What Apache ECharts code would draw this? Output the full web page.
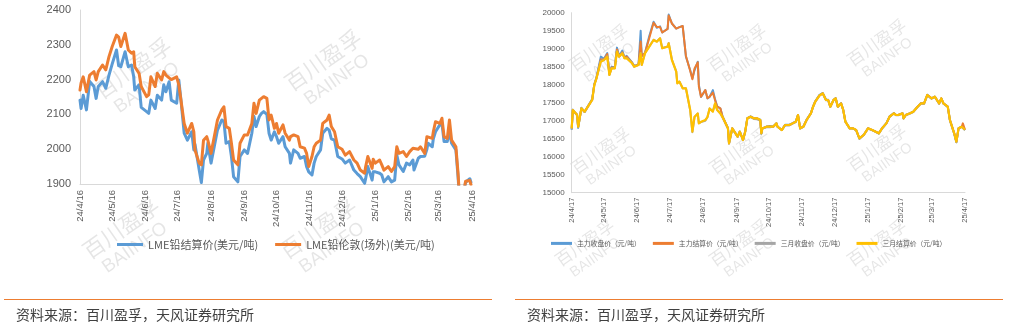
<!DOCTYPE html>
<html><head><meta charset="utf-8">
<script src="https://cdn.jsdelivr.net/npm/echarts@6/dist/echarts.min.js"></script>
<style>html,body{margin:0;padding:0;background:#fff}#c{width:1018px;height:325px}</style>
</head><body><div id="c"></div>
<script>
// ---------- Left chart data ----------
const leftTickLabels = ['24/4/16','24/5/16','24/6/16','24/7/16','24/8/16','24/9/16','24/10/16','24/11/16','24/12/16','25/1/16','25/2/16','25/3/16','25/4/16'];
const leftSeriesNames = ['LME铅结算价(美元/吨)','LME铅伦敦(场外)(美元/吨)'];
const leftDates = ['2024-04-16','2024-04-17','2024-04-19','2024-04-22','2024-04-25','2024-04-29','2024-05-01','2024-05-03','2024-05-07','2024-05-10',
'2024-05-13','2024-05-16','2024-05-20','2024-05-22','2024-05-24','2024-05-28','2024-05-31','2024-06-03','2024-06-05','2024-06-06',
'2024-06-10','2024-06-12','2024-06-17','2024-06-19','2024-06-21','2024-06-25','2024-06-27','2024-07-01','2024-07-03','2024-07-05',
'2024-07-08','2024-07-10','2024-07-15','2024-07-17','2024-07-19','2024-07-22','2024-07-25','2024-07-29','2024-07-31','2024-08-01',
'2024-08-05','2024-08-07','2024-08-09','2024-08-12','2024-08-13','2024-08-16','2024-08-19','2024-08-22','2024-08-26','2024-08-28',
'2024-08-30','2024-09-02','2024-09-04','2024-09-06','2024-09-10','2024-09-12','2024-09-16','2024-09-19','2024-09-23','2024-09-25',
'2024-09-27','2024-09-30','2024-10-02','2024-10-04','2024-10-07','2024-10-09','2024-10-11','2024-10-14','2024-10-16','2024-10-18',
'2024-10-22','2024-10-24','2024-10-28','2024-10-29','2024-11-01','2024-11-05','2024-11-07','2024-11-11','2024-11-13','2024-11-15',
'2024-11-18','2024-11-20','2024-11-22','2024-11-26','2024-11-28','2024-12-02','2024-12-04','2024-12-06','2024-12-09','2024-12-12',
'2024-12-16','2024-12-19','2024-12-23','2024-12-27','2024-12-30','2025-01-02','2025-01-06','2025-01-07','2025-01-09','2025-01-13',
'2025-01-14','2025-01-16','2025-01-20','2025-01-22','2025-01-24','2025-01-28','2025-01-31','2025-02-03','2025-02-05','2025-02-07',
'2025-02-11','2025-02-14','2025-02-17','2025-02-20','2025-02-21','2025-02-25','2025-02-27','2025-03-03','2025-03-05','2025-03-06',
'2025-03-10','2025-03-11','2025-03-13','2025-03-17','2025-03-19','2025-03-21','2025-03-24','2025-03-26','2025-03-28','2025-04-01',
'2025-04-03','2025-04-04','2025-04-08','2025-04-10','2025-04-14','2025-04-15'];
const lmeSettle = [2141,2117,2155,2113,2195,2180,2146,2180,2194,2175,
2213,2245,2285,2240,2237,2280,2237,2242,2208,2170,
2185,2120,2108,2103,2141,2117,2155,2141,2185,2165,
2194,2141,2132,2199,2141,2046,2026,2050,1998,2015,
1940,1904,1969,1988,2017,1960,2007,2055,2084,2080,
2017,2022,1979,1921,1906,1979,1998,1988,2046,2094,
2065,2094,2103,2108,2100,2046,2026,2050,2036,2017,
2036,2007,1988,1960,1998,1988,1974,1979,1950,1935,
1926,1960,1979,1998,2046,2060,2055,2030,2026,1979,
1972,1960,1969,1940,1930,1921,1902,1916,1950,1911,
1935,1935,1931,1926,1906,1921,1906,1911,1983,1955,
1936,1960,1955,1969,1940,1974,1979,1980,2000,2017,
2007,2030,2050,2070,2074,2022,2022,2050,2017,1998,
1921,1875,1865,1905,1915,1905];
const lmeLondon = [2170,2190,2208,2165,2213,2223,2199,2223,2242,2228,
2266,2295,2328,2322,2295,2333,2285,2276,2280,2237,
2218,2180,2151,2156,2208,2180,2218,2199,2223,2213,
2205,2200,2208,2185,2141,2074,2046,2074,2050,1998,
1960,1955,2026,2036,2026,1988,2036,2084,2113,2122,
2065,2060,2017,1969,1955,2017,2041,2041,2074,2132,
2103,2141,2146,2151,2146,2084,2098,2060,2074,2046,
2070,2046,2026,2036,2041,2036,2007,2003,1988,1950,
1979,2007,2017,2026,2074,2084,2098,2065,2050,2007,
2000,1983,1993,1969,1960,1940,1931,1950,1979,1945,
1971,1960,1969,1955,1940,1950,1936,1950,2007,1988,
1993,1979,1993,2003,1998,2000,2007,1988,2036,2035,
2031,2050,2079,2074,2089,2036,2031,2084,2026,2007,
1931,1880,1870,1908,1910,1898];

// ---------- Right chart data ----------
const rightTickLabels = ['24/4/17','24/5/17','24/6/17','24/7/17','24/8/17','24/9/17','24/10/17','24/11/17','24/12/17','25/1/17','25/2/17','25/3/17','25/4/17'];
const rightSeriesNames = ['主力收盘价（元/吨）','主力结算价（元/吨）','三月收盘价（元/吨）','三月结算价（元/吨）'];
const rightDates = ['2024-04-17','2024-04-18','2024-04-22','2024-04-23','2024-04-26','2024-04-29','2024-05-02','2024-05-06','2024-05-08','2024-05-10',
'2024-05-14','2024-05-17','2024-05-20','2024-05-22','2024-05-24','2024-05-27','2024-05-29','2024-05-31','2024-06-03','2024-06-05',
'2024-06-07','2024-06-12','2024-06-14','2024-06-18','2024-06-20','2024-06-21','2024-06-24','2024-06-28','2024-07-02','2024-07-05',
'2024-07-08','2024-07-10','2024-07-15','2024-07-16','2024-07-19','2024-07-23','2024-07-24','2024-07-26','2024-07-29','2024-08-01',
'2024-08-05','2024-08-07','2024-08-09','2024-08-12','2024-08-13','2024-08-15','2024-08-19','2024-08-21','2024-08-23','2024-08-26',
'2024-08-28','2024-08-30','2024-09-02','2024-09-04','2024-09-09','2024-09-10','2024-09-13','2024-09-18','2024-09-20','2024-09-23',
'2024-09-25','2024-09-27','2024-09-30','2024-10-03','2024-10-06','2024-10-09','2024-10-10','2024-10-11','2024-10-15','2024-10-18',
'2024-10-21','2024-10-24','2024-10-25','2024-10-29','2024-11-01','2024-11-05','2024-11-08','2024-11-11','2024-11-13','2024-11-15',
'2024-11-18','2024-11-21','2024-11-25','2024-11-27','2024-11-29','2024-12-03','2024-12-06','2024-12-09','2024-12-11','2024-12-13',
'2024-12-16','2024-12-18','2024-12-20','2024-12-23','2024-12-25','2024-12-27','2024-12-31','2025-01-03','2025-01-06','2025-01-09',
'2025-01-13','2025-01-15','2025-01-17','2025-01-21','2025-01-24','2025-01-27','2025-01-30','2025-02-03','2025-02-06','2025-02-10',
'2025-02-12','2025-02-14','2025-02-18','2025-02-19','2025-02-21','2025-02-25','2025-02-28','2025-03-04','2025-03-07','2025-03-10',
'2025-03-13','2025-03-17','2025-03-20','2025-03-24','2025-03-26','2025-03-28','2025-04-01','2025-04-03','2025-04-07','2025-04-09',
'2025-04-11','2025-04-14','2025-04-15','2025-04-17'];
const mainClose = [16750,17300,17160,16800,17360,17240,17400,17600,18020,18200,
18780,18720,18880,18300,18500,18480,19030,18800,18950,18760,
18800,18620,18520,18560,19500,18800,18880,19350,19750,19580,
19620,19450,19550,19950,19700,19560,19560,19600,19630,18780,
18400,18180,18400,18640,18000,17660,17850,17620,17660,17850,
17600,17400,17340,17120,16800,16380,16790,16560,16700,16470,
16700,17070,17120,17070,17060,17030,16640,16780,16840,16850,
16840,16930,16840,16740,16890,16890,16930,16980,17160,16790,
16840,17030,17210,17400,17540,17720,17770,17590,17580,17390,
17580,17630,17390,17490,17300,16980,16790,16790,16740,16500,
16610,16700,16790,16740,16700,16650,16790,16930,17120,17210,
17160,17160,17210,17060,17160,17210,17250,17390,17490,17480,
17720,17620,17670,17480,17620,17480,17390,17020,16640,16400,
16790,16840,16850,16740];
const mainSettle = [16780,17280,17170,16830,17340,17250,17390,17580,18000,18190,
18700,18700,18850,18300,18480,18470,18980,18790,18900,18750,
18780,18610,18510,18560,19200,18800,18880,19300,19720,19600,
19600,19450,19550,19920,19700,19560,19570,19600,19630,18800,
18380,18150,18450,18620,17950,17667,17850,17622,17667,17780,
17575,17389,17340,17111,16790,16372,16788,16556,16694,16464,
16694,17066,17111,17066,17066,17019,16660,16788,16833,16833,
16833,16926,16833,16740,16880,16880,16926,16972,17158,16788,
16833,17019,17205,17389,17528,17700,17760,17575,17575,17389,
17575,17620,17389,17480,17297,16972,16788,16788,16740,16510,
16603,16694,16788,16740,16694,16650,16788,16926,17111,17205,
17158,17158,17205,17066,17158,17205,17250,17389,17480,17480,
17714,17620,17667,17480,17620,17480,17389,17019,16650,16417,
16788,16833,16926,16750];
const marchClose = [16760,17310,17150,16820,17350,17240,17390,17580,18000,18180,
18660,18690,18790,18270,18460,18460,18930,18780,18880,18740,
18740,18600,18500,18550,18880,18550,18880,19060,19250,19200,
19290,19020,19060,19160,18700,18370,18050,18090,17900,17900,
17280,16680,17100,17200,16930,16960,17000,17100,17340,17260,
17470,17300,17200,17090,16780,16360,16780,16550,16690,16460,
16690,17060,17100,17050,17040,17000,16640,16790,16820,16820,
16830,16920,16830,16740,16870,16870,16920,16960,17150,16780,
16830,17010,17200,17380,17520,17710,17750,17570,17570,17380,
17570,17610,17380,17470,17290,16970,16780,16780,16740,16500,
16600,16690,16780,16730,16690,16640,16780,16920,17100,17200,
17150,17150,17200,17060,17150,17200,17240,17380,17470,17470,
17700,17610,17660,17470,17610,17470,17380,17010,16640,16400,
16780,16830,16850,16740];
const marchSettle = [16788,17297,17158,16833,17344,17250,17389,17575,17992,18178,
18639,18686,18778,18269,18455,18455,18917,18778,18871,18733,
18733,18594,18500,18547,18871,18547,18871,19056,19242,19195,
19288,19011,19056,19150,18686,18361,18039,18085,17900,17900,
17297,16694,17111,17200,16926,16970,17019,17100,17340,17250,
17480,17300,17200,17100,16788,16372,16788,16556,16694,16464,
16694,17066,17111,17066,17066,17019,16650,16788,16833,16833,
16833,16926,16833,16740,16880,16880,16926,16972,17158,16788,
16833,17019,17205,17389,17528,17700,17760,17575,17575,17389,
17575,17620,17389,17480,17297,16972,16788,16788,16740,16510,
16603,16694,16788,16740,16694,16650,16788,16926,17111,17205,
17158,17158,17205,17066,17158,17205,17250,17389,17480,17480,
17714,17620,17667,17480,17620,17480,17389,17019,16650,16417,
16788,16833,16860,16750];

const sourceText = '资料来源：百川盈孚，天风证券研究所';

// ---------- helpers ----------
function dateTs(s){const p=s.split('-').map(Number);return Date.UTC(p[0],p[1]-1,p[2]);}
function tickTs(s){const p=s.split('/').map(Number);return Date.UTC(2000+p[0],p[1]-1,p[2]);}
function pairs(dates, vals){return dates.map((d,i)=>[dateTs(d), vals[i]]);}
function labelFor(labels){const ts=labels.map(tickTs);return function(v){let bi=0,bd=Infinity;ts.forEach((t,i)=>{const d=Math.abs(t-v);if(d<bd){bd=d;bi=i;}});return labels[bi];};}

const FONT = '"Liberation Sans", "Noto Sans CJK SC", sans-serif';
const CJK = '"Noto Sans CJK SC", sans-serif';
const axisGray = '#d9d9d9', labelGray = '#595959';

function watermark(cx, cy, size){
  const rot = 35*Math.PI/180;
  return {type:'group', x:cx, y:cy, rotation:rot, silent:true, z:0, children:[
    {type:'text', x:0, y:-size*0.55, style:{text:'百川盈孚', fontSize:size, fontFamily:CJK, fill:'rgba(0,0,0,0.10)', align:'center', verticalAlign:'middle'}},
    {type:'text', x:0, y:size*0.55, style:{text:'BAIINFO', fontSize:size*0.85, fontFamily:FONT, fill:'rgba(0,0,0,0.10)', align:'center', verticalAlign:'middle'}}
  ]};
}

const chart = echarts.init(document.getElementById('c'), null, {renderer:'canvas'});
const lineBase = {type:'line', showSymbol:false, symbol:'none', clip:true, smooth:false};

function xAxisCfg(grid, labels, fs, margin){
  return {type:'value', gridIndex:grid, min:tickTs(labels[0]), max:tickTs(labels[labels.length-1]), scale:true,
    axisLine:{show:true, onZero:false, lineStyle:{color:axisGray, width:1}}, axisTick:{show:false}, splitLine:{show:false},
    axisLabel:{customValues:labels.map(tickTs), formatter:labelFor(labels), rotate:90, fontSize:fs, color:labelGray, fontFamily:FONT, margin:margin, hideOverlap:false, showMinLabel:true, showMaxLabel:true}};
}
const plainNum = v => String(v);

const option = {
  animation:false,
  backgroundColor:'#fff',
  grid:[
    {left:80, top:10, width:392, height:174, containLabel:false},
    {left:571.7, top:12.7, width:393.3, height:180, containLabel:false}
  ],
  xAxis:[ xAxisCfg(0, leftTickLabels, 9.5, 6), xAxisCfg(1, rightTickLabels, 7.5, 5) ],
  yAxis:[
    {type:'value', gridIndex:0, min:1900, max:2400, interval:100,
     axisLine:{show:true, lineStyle:{color:axisGray}}, axisTick:{show:false}, splitLine:{show:false},
     axisLabel:{fontSize:11, color:labelGray, fontFamily:FONT, margin:9, formatter:plainNum}},
    {type:'value', gridIndex:1, min:15000, max:20000, interval:500,
     axisLine:{show:true, lineStyle:{color:axisGray}}, axisTick:{show:false}, splitLine:{show:false},
     axisLabel:{fontSize:8, color:labelGray, fontFamily:FONT, margin:7, formatter:plainNum}}
  ],
  legend:[
    {data:leftSeriesNames, left:112, top:234, icon:'rect', itemWidth:26, itemHeight:3, itemGap:17,
     textStyle:{fontSize:11, color:labelGray, fontFamily:CJK}},
    {data:rightSeriesNames, left:546, top:235, icon:'rect', itemWidth:21, itemHeight:3, itemGap:12,
     textStyle:{fontSize:6.8, color:labelGray, fontFamily:CJK}}
  ],
  series:[
    Object.assign({}, lineBase, {name:leftSeriesNames[0], xAxisIndex:0, yAxisIndex:0, data:pairs(leftDates, lmeSettle),
      lineStyle:{width:3, color:'#5B9BD5', join:'round', cap:'round'}, itemStyle:{color:'#5B9BD5'}, z:3}),
    Object.assign({}, lineBase, {name:leftSeriesNames[1], xAxisIndex:0, yAxisIndex:0, data:pairs(leftDates, lmeLondon),
      lineStyle:{width:3, color:'#ED7D31', join:'round', cap:'round'}, itemStyle:{color:'#ED7D31'}, z:4}),
    Object.assign({}, lineBase, {name:rightSeriesNames[0], xAxisIndex:1, yAxisIndex:1, data:pairs(rightDates, mainClose),
      lineStyle:{width:2, color:'#5B9BD5', join:'round'}, itemStyle:{color:'#5B9BD5'}, z:3}),
    Object.assign({}, lineBase, {name:rightSeriesNames[1], xAxisIndex:1, yAxisIndex:1, data:pairs(rightDates, mainSettle),
      lineStyle:{width:2, color:'#ED7D31', join:'round'}, itemStyle:{color:'#ED7D31'}, z:4}),
    Object.assign({}, lineBase, {name:rightSeriesNames[2], xAxisIndex:1, yAxisIndex:1, data:pairs(rightDates, marchClose),
      lineStyle:{width:2, color:'#A5A5A5', join:'round'}, itemStyle:{color:'#A5A5A5'}, z:5}),
    Object.assign({}, lineBase, {name:rightSeriesNames[3], xAxisIndex:1, yAxisIndex:1, data:pairs(rightDates, marchSettle),
      lineStyle:{width:2.2, color:'#FFC000', join:'round'}, itemStyle:{color:'#FFC000'}, z:6})
  ],
  graphic:[
    watermark(140, 78, 22), watermark(330, 70, 22), watermark(128, 238, 22), watermark(325, 238, 22),
    watermark(604, 55, 17), watermark(742, 55, 17), watermark(882, 50, 17),
    watermark(606, 158, 17), watermark(744, 158, 17), watermark(882, 155, 17),
    watermark(590, 250, 17), watermark(744, 250, 17), watermark(882, 250, 17),
    {type:'line', shape:{x1:4, y1:299.5, x2:492, y2:299.5}, style:{stroke:'#ED7D31', lineWidth:1}, silent:true},
    {type:'line', shape:{x1:515, y1:299.5, x2:1003, y2:299.5}, style:{stroke:'#ED7D31', lineWidth:1}, silent:true},
    {type:'text', x:16, y:315, style:{text:sourceText, fontSize:14, fontFamily:CJK, fill:'#404040', verticalAlign:'middle'}, silent:true},
    {type:'text', x:527, y:315, style:{text:sourceText, fontSize:14, fontFamily:CJK, fill:'#404040', verticalAlign:'middle'}, silent:true}
  ]
};
chart.setOption(option);
</script>
</body></html>
